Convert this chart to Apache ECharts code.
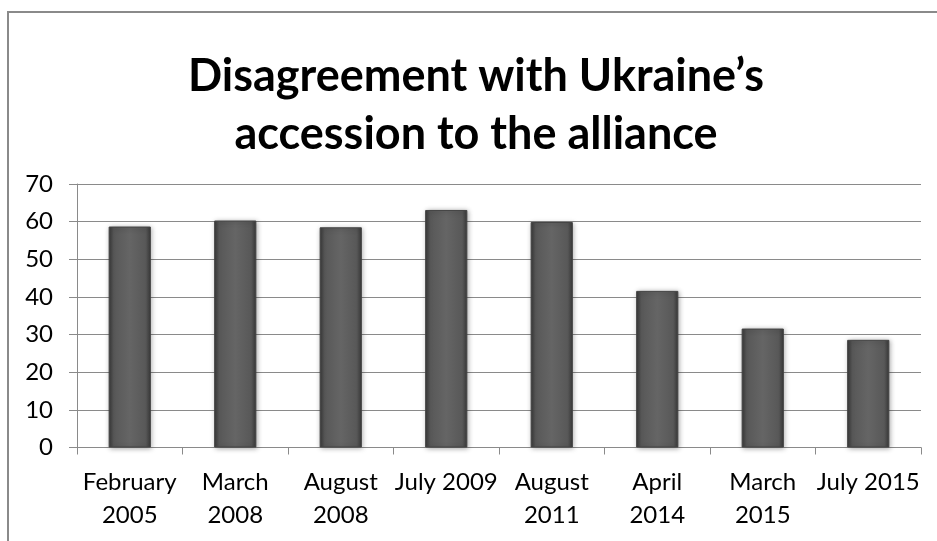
<!DOCTYPE html>
<html>
<head>
<meta charset="utf-8">
<script src="https://cdn.jsdelivr.net/npm/echarts@6/dist/echarts.min.js"></script>
<style>
html,body{margin:0;padding:0;background:#fff;}
#main{width:937px;height:541px;}
</style>
</head>
<body>
<div id="main"></div>
<script>
var titleText = "Disagreement with Ukraine\u2019s\naccession to the alliance";
var categories = ["February\n2005", "March\n2008", "August\n2008", "July 2009", "August\n2011", "April\n2014", "March\n2015", "July 2015"];
var disagreement = [58.7, 60.3, 58.5, 63.1, 59.9, 41.6, 31.6, 28.6];
var yTicks = { min: 0, max: 70, interval: 10 };

var chart = echarts.init(document.getElementById('main'), null, { renderer: 'canvas' });
var barColor = new echarts.graphic.LinearGradient(0, 0, 1, 0, [
  { offset: 0, color: '#383838' },
  { offset: 0.12, color: '#585858' },
  { offset: 0.5, color: '#656565' },
  { offset: 0.88, color: '#585858' },
  { offset: 1, color: '#383838' }
]);
var option = {
  animation: false,
  backgroundColor: '#ffffff',
  graphic: [{
    type: 'rect',
    z: -10,
    shape: { x: 8, y: 12, width: 1000, height: 700 },
    style: { fill: 'none', stroke: '#8a8a8a', lineWidth: 2 }
  }],
  title: {
    text: titleText,
    left: 471,
    textAlign: 'center',
    top: 42,
    textStyle: {
      fontFamily: 'Lato',
      fontWeight: 'bold',
      fontSize: 45,
      lineHeight: 58,
      color: '#000'
    }
  },
  grid: { left: 77, right: 16, top: 184, bottom: 93.5 },
  xAxis: {
    type: 'category',
    data: categories,
    axisLine: { show: true, lineStyle: { color: '#8a8a8a', width: 1 } },
    axisTick: { show: true, alignWithLabel: false, length: 7, lineStyle: { color: '#8a8a8a' } },
    axisLabel: {
      interval: 0,
      margin: 18,
      fontFamily: 'Lato',
      fontSize: 24,
      lineHeight: 33,
      color: '#000'
    }
  },
  yAxis: {
    type: 'value',
    min: yTicks.min,
    max: yTicks.max,
    interval: yTicks.interval,
    axisLine: { show: true, lineStyle: { color: '#8a8a8a', width: 1 } },
    axisTick: { show: true, length: 8, lineStyle: { color: '#8a8a8a' } },
    axisLabel: {
      margin: 24,
      fontFamily: 'Lato',
      fontSize: 24,
      color: '#000'
    },
    splitLine: { show: true, lineStyle: { color: '#8a8a8a', width: 1 } }
  },
  series: [{
    type: 'bar',
    data: disagreement,
    barWidth: '40%',
    itemStyle: {
      color: barColor,
      borderColor: '#444',
      borderWidth: 1,
      shadowBlur: 5,
      shadowColor: 'rgba(0,0,0,0.35)',
      shadowOffsetX: 1,
      shadowOffsetY: 1
    }
  }]
};
chart.setOption(option);
</script>
</body>
</html>
